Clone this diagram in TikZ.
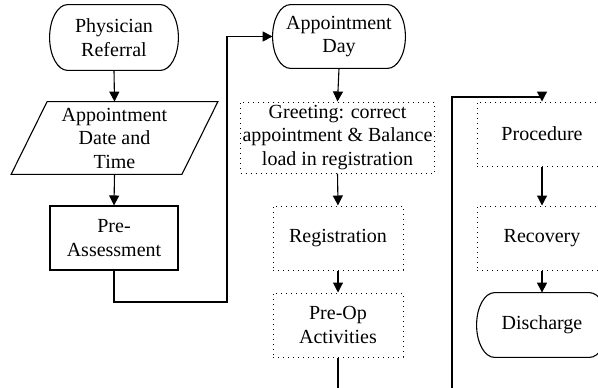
\documentclass[tikz,border=0pt]{standalone}
\usepackage{fontspec}
\setmainfont{Liberation Serif}
\usetikzlibrary{arrows.meta}
\newcommand\termshape[1]{%
  \draw[conn] ([xshift=9pt]#1.north west) -- ([xshift=-9pt]#1.north east)
    .. controls ([xshift=-4pt]#1.north east) and ([yshift=9pt]#1.east) .. (#1.east)
    .. controls ([yshift=-9pt]#1.east) and ([xshift=-4pt]#1.south east) .. ([xshift=-9pt]#1.south east)
    -- ([xshift=9pt]#1.south west)
    .. controls ([xshift=4pt]#1.south west) and ([yshift=-9pt]#1.west) .. (#1.west)
    .. controls ([yshift=9pt]#1.west) and ([xshift=4pt]#1.north west) .. ([xshift=9pt]#1.north west) -- cycle;}
\begin{document}
\begin{tikzpicture}[x=0.5pt,y=-0.5pt,
  every node/.style={font=\fontsize{10}{11.75}\selectfont, align=center, inner sep=1pt},
  term/.style={rectangle, minimum height=32pt},
  solidbox/.style={rectangle, draw, line width=0.55pt, minimum width=64pt, minimum height=32pt},
  dotbox/.style={rectangle, draw, dotted, line width=0.5pt, minimum width=65pt, minimum height=32pt},
  conn/.style={line width=0.55pt},
  arr/.style={conn, -{Triangle[length=5pt,width=5pt]}}]
\useasboundingbox (0,0) rectangle (598,387);
\clip (0,0) rectangle (598,387);
% left column
\node[term, minimum width=64pt, minimum height=32.5pt] (ref) at (114,37.5) {Physician\\Referral};
\termshape{ref}
\node[minimum width=85pt, minimum height=36pt] (date) at (114.5,138) {Appointment\\Date and\\Time};
\draw[conn] ([xshift=9pt]date.north west) -- ([xshift=9pt]date.north east)
  -- ([xshift=-9pt]date.south east) -- ([xshift=-9pt]date.south west) -- cycle;
\node[solidbox] (pre) at (114,238) {Pre-\\Assessment};
% middle column
\node[term, minimum width=66pt, minimum height=31.5pt] (day) at (339,36.5) {Appointment\\Day};
\termshape{day}
\node[dotbox, minimum width=95.5pt, minimum height=35.5pt] (greet) at (337.5,137.5) {Greeting: correct\\appointment \& Balance\\load in registration};
\node[dotbox] (reg) at (338,238) {Registration};
\node[dotbox] (op) at (338,325) {Pre-Op\\Activities};
% right column
\node[dotbox] (proc) at (542,134) {Procedure};
\node[dotbox] (rec) at (542,238) {Recovery};
\node[term, minimum width=65pt, minimum height=32pt] (dis) at (542,325) {Discharge};
\termshape{dis}
% helper coordinates
\coordinate (c1) at (227,302);
\coordinate (c2) at (452,395);
\coordinate (c3) at (452,97);
% connectors
\draw[arr] (ref.south) -- (date.north);
\draw[arr] (date.south) -- (pre.north);
\draw[arr] (pre.south) |- (c1) |- (day.west);
\draw[arr] (day.south) -- (greet.north);
\draw[arr] (greet.south) -- (reg.north);
\draw[arr] (reg.south) -- (op.north);
\draw[arr] (op.south) |- (c2) -- (c3) -| (proc.north);
\draw[arr] (proc.south) -- (rec.north);
\draw[arr] (rec.south) -- (dis.north);
\end{tikzpicture}
\end{document}
